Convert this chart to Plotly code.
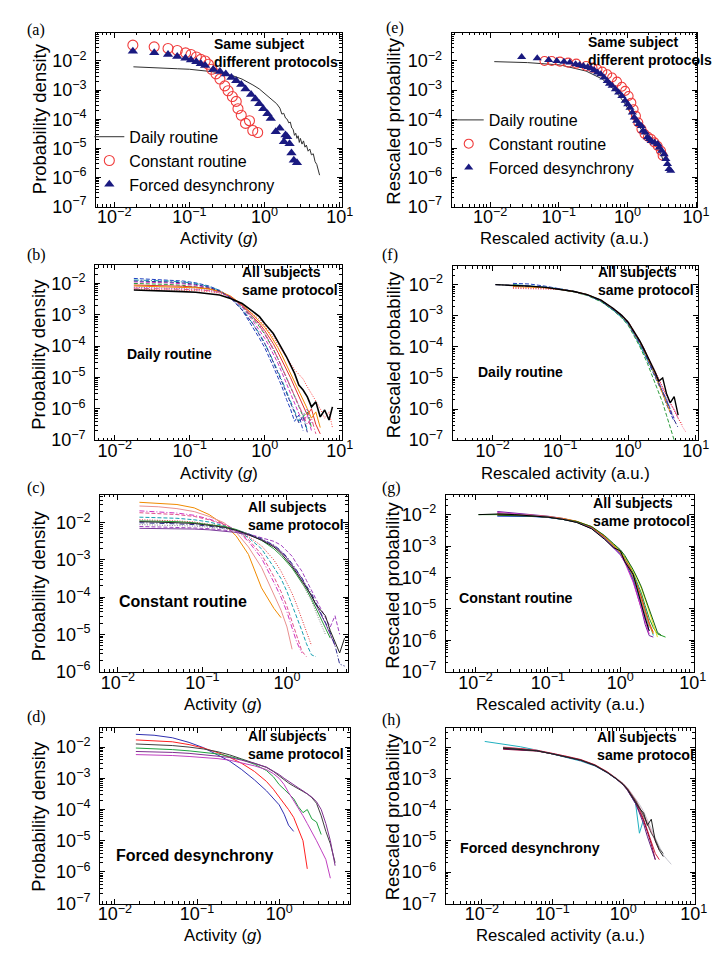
import plotly.graph_objects as go

W, H = 724, 954

# ---------------- data ----------------
# bin centres used by the histogram curves
ACT_BINS = [0.018, 0.03, 0.05, 0.08, 0.12, 0.18, 0.25, 0.35, 0.5, 0.7, 0.85, 1.0,
            1.15, 1.3, 1.5, 1.7, 1.95, 2.2, 2.5, 2.85, 3.25, 3.7, 4.2, 4.8, 5.5,
            6.3, 7.2, 8.0]
RES_BINS = [0.011, 0.02, 0.035, 0.06, 0.1, 0.16, 0.25, 0.4, 0.6, 0.8, 1.0, 1.15,
            1.3, 1.5, 1.7, 1.95, 2.2, 2.5, 2.85, 3.25, 3.7, 4.2, 4.8, 5.5, 6.3, 7.2]

# (a) same subject, different protocols
A_DAILY_X = [0.018, 0.025, 0.035, 0.05, 0.07, 0.1, 0.14, 0.2, 0.28, 0.38, 0.5, 0.6,
             0.7, 0.85, 1.0, 1.15, 1.3, 1.45, 1.6, 1.7, 1.8, 1.9, 2.0, 2.1, 2.2, 2.3,
             2.4, 2.5, 2.6, 2.7, 2.8, 2.9, 3.0, 3.15, 3.3, 3.45, 3.6, 3.8, 4.0, 4.2,
             4.45, 4.7, 4.95, 5.2, 5.4]
A_DAILY_Y = [0.0063, 0.006, 0.0057, 0.0055, 0.0054, 0.0052, 0.0048, 0.0043, 0.0037,
             0.0031, 0.0024, 0.0019, 0.0015, 0.0011, 0.00078, 0.00057, 0.00045,
             0.00034, 0.00024, 0.00015, 0.00016, 0.00011, 0.0001, 7.5e-5, 8e-5, 5e-5,
             4.5e-5, 2.8e-5, 3.3e-5, 2.2e-5, 2.7e-5, 1.6e-5, 2.2e-5, 1.4e-5, 1.8e-5,
             1.1e-5, 1.3e-5, 8e-6, 9.5e-6, 6e-6, 6.5e-6, 3.5e-6, 2.8e-6, 1.8e-6, 1.2e-6]
A_CONST_X = [0.0177, 0.034, 0.052, 0.069, 0.089, 0.105, 0.124, 0.142, 0.162, 0.179,
             0.198, 0.226, 0.255, 0.296, 0.327, 0.373, 0.42, 0.443, 0.49, 0.558,
             0.63, 0.697, 0.81]
A_CONST_Y = [0.035, 0.0306, 0.027, 0.023, 0.019, 0.0168, 0.0137, 0.0114, 0.01,
             0.0077, 0.0052, 0.0036, 0.0024, 0.0014, 0.00095, 0.0006, 0.00041,
             0.00023, 0.000137, 7.2e-5, 8.9e-5, 4.1e-5, 3.5e-5]
A_FORCED_X = [0.0177, 0.0341, 0.052, 0.0689, 0.0887, 0.105, 0.1236, 0.142, 0.162,
              0.208, 0.255, 0.305, 0.362, 0.42, 0.49, 0.558, 0.662, 0.755, 0.851,
              0.96, 1.094, 1.21, 1.41, 1.59, 1.81, 1.9, 2.0, 2.15, 2.28, 2.45, 2.7]
A_FORCED_Y = [0.0218, 0.0191, 0.0168, 0.0144, 0.0123, 0.0108, 0.0095, 0.0081, 0.007,
              0.0051, 0.00435, 0.00354, 0.00273, 0.0021, 0.00155, 0.0011, 0.0007,
              0.0005, 0.00034, 0.00023, 0.000154, 0.000105, 3.7e-5, 4.9e-5, 1.7e-5,
              2.9e-5, 2.5e-5, 1.44e-5, 6.9e-6, 3.9e-6, 3.2e-6]

# (e) rescaled, same subject
E_DAILY_X = [0.0115, 0.035, 0.105, 0.25, 0.43, 0.67, 0.93, 1.29, 1.78, 2.47, 3.1, 3.3]
E_DAILY_Y = [0.0095, 0.0088, 0.0073, 0.0045, 0.0024, 0.00094, 0.00033, 8.9e-5,
             3.1e-5, 1.4e-5, 6.3e-6, 3.8e-6]
E_CONST_X = [0.062, 0.079, 0.104, 0.137, 0.18, 0.25, 0.31, 0.366, 0.43, 0.508, 0.598,
             0.705, 0.83, 0.927, 1.04, 1.14, 1.23, 1.33, 1.44, 1.6, 1.78, 1.99, 2.22,
             2.47, 2.76, 3.08, 3.26]
E_CONST_Y = [0.01, 0.01, 0.0095, 0.0088, 0.0081, 0.0067, 0.0059, 0.0052, 0.0043,
             0.0035, 0.0027, 0.00196, 0.0013, 0.00094, 0.00063, 0.00037, 0.00022,
             0.00013, 7.7e-5, 4.6e-5, 3.1e-5, 2.5e-5, 2.1e-5, 1.6e-5, 1.2e-5, 8.3e-6,
             5.6e-6]
E_FORCED_X = [0.0288, 0.0486, 0.0713, 0.0937, 0.119, 0.145, 0.176, 0.201, 0.229,
              0.264, 0.294, 0.329, 0.366, 0.409, 0.456, 0.508, 0.548, 0.598, 0.668,
              0.745, 0.83, 0.927, 1.01, 1.09, 1.18, 1.26, 1.36, 1.47, 1.6, 1.69, 1.82,
              1.95, 2.1, 2.22, 2.47, 2.76, 2.91, 3.15, 3.43, 3.63, 3.83, 4.04, 4.27]
E_FORCED_Y = [0.0137, 0.0123, 0.0108, 0.01, 0.0095, 0.0088, 0.0077, 0.0073, 0.0067,
              0.0062, 0.0056, 0.0048, 0.004, 0.0035, 0.0027, 0.00207, 0.00167, 0.0014,
              0.00107, 0.00083, 0.00063, 0.00043, 0.00033, 0.00025, 0.00017,
              0.000114, 8.9e-5, 6.8e-5, 5.9e-5, 4e-5, 3.5e-5, 2.4e-5, 2.1e-5, 1.8e-5,
              1.6e-5, 1.4e-5, 1.07e-5, 8.3e-6, 6.3e-6, 4.3e-6, 2.9e-6, 1.95e-6, 1.7e-6]

# (b) daily routine, all subjects: log10 density on ACT_BINS
B_BLACK = [-2.21, -2.22, -2.23, -2.26, -2.28, -2.32, -2.37, -2.48, -2.64, -2.9, -3.06,
           -3.28, -3.44, -3.6, -3.86, -4.07, -4.34, -4.6, -4.87, -5.24, -5.4, -5.62,
           -5.94, -5.78, -6.26, -6.04, -6.36, -5.94]
B_OTHERS = [
    [-1.84, -1.86, -1.88, -1.92, -1.98, -2.08, -2.22, -2.45, -2.85, -3.4, -3.75, -4.05,
     -4.35, -4.65, -5.0, -5.3, -5.7, -6.0, -6.4, -6.2, -6.7],
    [-1.89, -1.9, -1.92, -1.95, -2.0, -2.1, -2.22, -2.44, -2.8, -3.3, -3.6, -3.9, -4.2,
     -4.45, -4.8, -5.1, -5.45, -5.75, -6.1, -6.4, -6.2, -6.7],
    [-1.95, -1.96, -1.98, -2.01, -2.06, -2.14, -2.25, -2.44, -2.75, -3.2, -3.48, -3.75,
     -4.0, -4.25, -4.55, -4.85, -5.2, -5.5, -5.8, -6.15, -6.4, -6.2, -6.7],
    [-2.0, -2.01, -2.03, -2.06, -2.1, -2.16, -2.26, -2.43, -2.72, -3.12, -3.38, -3.62,
     -3.86, -4.1, -4.4, -4.68, -5.0, -5.3, -5.6, -5.95, -6.25, -6.1, -6.6],
    [-2.05, -2.06, -2.07, -2.09, -2.12, -2.17, -2.25, -2.42, -2.7, -3.05, -3.28, -3.5,
     -3.72, -3.92, -4.2, -4.45, -4.75, -5.0, -5.3, -5.6, -5.9, -6.2, -6.0, -6.5, -6.8],
    [-2.08, -2.09, -2.1, -2.12, -2.14, -2.18, -2.25, -2.4, -2.68, -3.0, -3.2, -3.4,
     -3.6, -3.8, -4.05, -4.3, -4.6, -4.85, -5.1, -5.4, -5.7, -6.0, -6.3, -6.1, -6.6],
    [-2.12, -2.13, -2.14, -2.16, -2.18, -2.22, -2.28, -2.42, -2.7, -3.08, -3.32, -3.58,
     -3.82, -4.08, -4.38, -4.68, -5.0, -5.3, -5.6, -5.9, -6.2, -6.0, -6.5],
    [-2.18, -2.19, -2.2, -2.21, -2.23, -2.26, -2.31, -2.43, -2.7, -2.98, -3.15, -3.35,
     -3.55, -3.72, -3.95, -4.15, -4.35, -4.55, -4.75, -4.9, -5.05, -5.3, -5.5, -5.75,
     -6.0, -6.3, -6.1, -6.6],
    [-2.15, -2.16, -2.17, -2.18, -2.2, -2.23, -2.29, -2.43, -2.72, -3.1, -3.35, -3.6,
     -3.85, -4.1, -4.4, -4.7, -5.0, -5.3, -5.6, -5.9, -6.2, -6.5, -6.3, -6.8],
    [-1.92, -1.93, -1.95, -1.98, -2.03, -2.12, -2.24, -2.46, -2.85, -3.3, -3.62, -3.92,
     -4.22, -4.5, -4.85, -5.15, -5.5, -5.8, -6.15, -6.45, -6.25, -6.75],
]

# (c) constant routine, all subjects: log10 density on ACT_BINS
C_CURVES = [
    [-1.45, -1.47, -1.51, -1.6, -1.78, -2.05, -2.35, -2.85, -3.75, -4.3, -4.55],
    [-1.55, -1.57, -1.62, -1.7, -1.83, -2.0, -2.25, -2.65, -3.2, -3.9, -4.35, -4.8,
     -5.4],
    [-1.68, -1.7, -1.74, -1.8, -1.9, -2.03, -2.2, -2.5, -2.95, -3.6, -4.0, -4.4, -4.8,
     -5.2, -5.5],
    [-1.73, -1.75, -1.78, -1.83, -1.92, -2.05, -2.2, -2.45, -2.85, -3.45, -3.85, -4.25,
     -4.65, -5.05, -5.45, -5.6],
    [-1.85, -1.86, -1.88, -1.92, -1.98, -2.08, -2.2, -2.4, -2.7, -3.2, -3.5, -3.85,
     -4.2, -4.55, -4.9, -5.25, -5.55, -5.6],
    [-1.92, -1.93, -1.95, -1.98, -2.03, -2.1, -2.2, -2.37, -2.62, -3.0, -3.3, -3.6,
     -3.9, -4.2, -4.6, -4.95, -5.3],
    [-1.95, -1.96, -1.97, -2.0, -2.04, -2.1, -2.18, -2.3, -2.47, -2.7, -2.88, -3.05,
     -3.22, -3.4, -3.6, -3.8, -4.05, -4.3, -4.55, -4.85, -5.1],
    [-2.05, -2.06, -2.07, -2.09, -2.12, -2.16, -2.22, -2.31, -2.44, -2.62, -2.78,
     -2.95, -3.15, -3.35, -3.6, -3.85, -4.1, -4.4, -4.7, -5.0],
    [-2.1, -2.11, -2.12, -2.14, -2.16, -2.19, -2.23, -2.3, -2.4, -2.5, -2.6, -2.75,
     -2.9, -3.1, -3.3, -3.55, -3.8, -4.05, -4.3, -4.55, -4.8, -4.5, -5.0],
    [-2.15, -2.15, -2.16, -2.17, -2.19, -2.22, -2.26, -2.33, -2.45, -2.62, -2.78, -2.95,
     -3.12, -3.3, -3.5, -3.72, -3.95, -4.2, -4.45, -4.7, -5.0, -5.3],
    [-2.0, -2.01, -2.03, -2.05, -2.09, -2.14, -2.2, -2.3, -2.43, -2.6, -2.75, -2.92,
     -3.1, -3.28, -3.48, -3.7, -3.9, -4.15, -4.4, -4.65, -4.95, -5.3, -5.8, -5.85],
    [-1.97, -1.98, -2.0, -2.02, -2.06, -2.12, -2.2, -2.32, -2.47, -2.65, -2.82, -3.0,
     -3.18, -3.35, -3.55, -3.75, -3.95, -4.2, -4.35, -4.5, -4.9, -5.2, -5.5, -5.1],
]

# (d) forced desynchrony, all subjects: log10 density on ACT_BINS
D_CURVES = [
    [-1.59, -1.62, -1.7, -1.85, -2.02, -2.25, -2.45, -2.72, -3.05, -3.4, -3.65, -3.85,
     -4.15, -4.5, -4.7],
    [-1.77, -1.79, -1.83, -1.92, -2.03, -2.18, -2.33, -2.52, -2.78, -3.1, -3.35, -3.6,
     -3.8, -4.0, -4.25, -4.6, -5.0, -5.9],
    [-1.9, -1.92, -1.95, -2.0, -2.06, -2.15, -2.25, -2.38, -2.52, -2.65, -2.78, -2.93,
     -3.05, -3.15, -3.25, -3.32, -3.42, -3.5, -3.62, -3.8, -4.2, -4.7, -5.1, -5.7],
    [-2.03, -2.05, -2.08, -2.12, -2.17, -2.22, -2.3, -2.4, -2.55, -2.75, -2.95, -3.2,
     -3.35, -3.5, -3.65, -3.9, -4.1, -4.0, -4.3, -4.4, -4.8],
    [-2.14, -2.15, -2.17, -2.2, -2.24, -2.28, -2.33, -2.42, -2.52, -2.64, -2.76, -2.88,
     -3.0, -3.1, -3.2, -3.3, -3.4, -3.5, -3.6, -3.75, -4.0, -4.45, -5.0, -5.8],
    [-2.24, -2.25, -2.27, -2.3, -2.33, -2.37, -2.42, -2.5, -2.6, -2.72, -2.85, -3.0,
     -3.2, -3.45, -3.7, -3.95, -4.2, -4.45, -4.7, -5.0, -5.3, -5.6, -6.2],
]

# (f) daily routine rescaled: log10 density on RES_BINS
N = None
F_BLACK = [-2.0, -2.02, -2.05, -2.09, -2.15, -2.22, -2.32, -2.5, -2.76, -2.98, -3.2,
           -3.4, -3.6, -3.82, -4.05, -4.3, -4.55, -4.8, -5.1, -5.0, -5.5, -5.8, -5.6,
           -6.2]
F_OTHERS = [
    [N, -1.96, -1.98, -2.05, -2.13, -2.22, -2.33, -2.53, -2.8, -3.03, -3.26, -3.47,
     -3.68, -3.92, -4.15, -4.45, -4.7, -4.95, -5.25, -5.5, -5.85, -6.1, -6.4],
    [N, -2.12, -2.13, -2.13, -2.16, -2.22, -2.33, -2.5, -2.75, -2.97, -3.18, -3.38,
     -3.57, -3.8, -4.02, -4.3, -4.52, -4.78, -5.02, -5.3, -5.55, -5.8, -6.05, -6.3,
     -6.55, -6.75],
    [N, -2.0, -2.04, -2.08, -2.14, -2.22, -2.34, -2.54, -2.82, -3.05, -3.28, -3.48,
     -3.7, -3.95, -4.18, -4.4, -4.65, -4.9, -5.2, -5.45, -5.7, -6.0],
    [N, -2.01, -2.05, -2.1, -2.16, -2.24, -2.35, -2.55, -2.82, -3.06, -3.3, -3.52,
     -3.75, -4.0, -4.25, -4.55, -4.85, -5.15, -5.5, -5.8, -6.2, -6.6, -7.0],
    [N, N, -2.05, -2.09, -2.15, -2.23, -2.33, -2.51, -2.77, -2.99, -3.21, -3.42, -3.6,
     -3.82, -4.05, -4.32, -4.55, -4.82, -5.05, -5.3, -5.55, -5.85, -6.0, -6.3],
    [N, -2.1, -2.11, -2.12, -2.16, -2.23, -2.33, -2.51, -2.77, -2.98, -3.2, -3.4, -3.6,
     -3.82, -4.05, -4.3, -4.55, -4.8, -5.05, -5.3, -5.55, -5.8, -6.05, -6.3, -6.5],
    [N, -2.03, -2.05, -2.09, -2.15, -2.22, -2.32, -2.51, -2.79, -3.02, -3.25, -3.46,
     -3.66, -3.9, -4.12, -4.38, -4.62, -4.9, -5.15, -5.45, -5.7, -6.0, -6.3],
    [N, -2.06, -2.08, -2.1, -2.15, -2.22, -2.32, -2.5, -2.77, -3.0, -3.22, -3.43,
     -3.63, -3.86, -4.1, -4.36, -4.62, -4.9, -5.2, -5.5, -5.8, -6.1],
    [-2.0, -2.02, -2.04, -2.08, -2.14, -2.22, -2.33, -2.53, -2.79, -3.01, -3.23, -3.44,
     -3.64, -3.88, -4.11, -4.38, -4.64, -4.9, -5.18, -5.45, -5.75, -6.05, -6.35, -6.6],
]

# (g) constant routine rescaled: log10 density on RES_BINS
G_CURVES = [
    [-2.0, -1.99, -2.0, -2.03, -2.07, -2.13, -2.22, -2.4, -2.7, -2.95, -3.15, -3.35,
     -3.55, -3.85, -4.15, -4.5, -4.9, -5.3, -5.6, -5.8, -5.85, -5.9],
    [N, N, -2.02, -2.05, -2.08, -2.14, -2.22, -2.4, -2.7, -2.96, -3.18, -3.36, -3.55,
     -3.8, -4.05, -4.35, -4.7, -5.1, -5.5, -5.9],
    [N, -2.0, -2.02, -2.05, -2.09, -2.15, -2.24, -2.43, -2.73, -3.0, -3.22, -3.4,
     -3.62, -3.9, -4.2, -4.6, -5.0, -5.45, -5.85],
    [N, -1.9, -1.95, -2.0, -2.05, -2.12, -2.22, -2.42, -2.74, -3.02, -3.26, -3.5,
     -3.75, -4.1, -4.5, -5.0, -5.5, -5.85, -5.9],
    [N, -2.05, -2.05, -2.06, -2.09, -2.15, -2.24, -2.44, -2.75, -3.03, -3.28, -3.5,
     -3.75, -4.05, -4.4, -4.85, -5.3, -5.7],
    [N, -2.0, -2.01, -2.04, -2.08, -2.14, -2.23, -2.41, -2.71, -2.98, -3.2, -3.42,
     -3.62, -3.92, -4.25, -4.62, -5.05, -5.45, -5.75],
    [N, -1.97, -1.99, -2.02, -2.06, -2.12, -2.21, -2.38, -2.68, -2.97, -3.2, -3.42,
     -3.66, -3.98, -4.3, -4.7, -5.1, -5.5, -5.8],
    [N, -1.93, -1.97, -2.02, -2.07, -2.14, -2.24, -2.44, -2.76, -3.04, -3.28, -3.52,
     -3.8, -4.15, -4.55, -5.0, -5.45, -5.8],
    [N, -2.02, -2.03, -2.05, -2.08, -2.14, -2.22, -2.38, -2.66, -2.92, -3.12, -3.3,
     -3.5, -3.75, -4.0, -4.3, -4.65, -5.0, -5.4, -5.75, -5.85],
    [N, -1.96, -1.99, -2.03, -2.08, -2.15, -2.25, -2.44, -2.74, -3.0, -3.24, -3.45,
     -3.7, -4.0, -4.35, -4.8, -5.2, -5.6],
    [-2.0, -1.98, -2.0, -2.03, -2.08, -2.15, -2.25, -2.45, -2.78, -3.05, -3.15, -3.5,
     -3.7, -3.9, -4.35, -4.9, -5.3, -5.7],
]

# (h) forced desynchrony rescaled: log10 density on RES_BINS
H_CURVES = [
    [-1.8, -1.88, -1.97, -2.08, -2.2, -2.32, -2.43, -2.59, -2.81, -3.01, -3.17, -3.35,
     -3.55, -3.8, -4.75, -4.3],
    [N, -1.99, -2.03, -2.09, -2.19, -2.29, -2.39, -2.56, -2.78, -2.97, -3.14, -3.28,
     -3.44, -3.62, -3.82, -4.05, -4.3, -4.6, -4.9, -5.2, -5.45, -5.6, -5.75],
    [N, -1.98, -2.02, -2.08, -2.18, -2.28, -2.39, -2.56, -2.79, -2.99, -3.17, -3.31,
     -3.48, -3.68, -3.9, -4.15, -4.4, -4.7, -5.0, -5.3],
    [N, -2.0, -2.03, -2.09, -2.18, -2.28, -2.38, -2.55, -2.78, -2.98, -3.16, -3.32,
     -3.5, -3.72, -3.98, -4.3, -4.65, -5.0, -5.4, -5.6],
    [N, -2.05, -2.07, -2.11, -2.2, -2.3, -2.4, -2.57, -2.8, -3.0, -3.19, -3.36, -3.55,
     -3.78, -4.05, -4.35, -4.7, -5.1, -5.6],
    [N, -2.03, -2.06, -2.1, -2.2, -2.31, -2.41, -2.58, -2.81, -3.01, -3.2, -3.37, -3.56,
     -3.8, -4.1, -4.45, -4.85, -5.25, -5.6],
    [N, -2.0, -2.04, -2.1, -2.2, -2.3, -2.4, -2.57, -2.8, -3.0, -3.18, -3.33, -3.5,
     -3.7, -3.92, -4.18, -4.45, -4.75, -4.95, -5.25, -5.4],
    [N, -2.02, -2.05, -2.1, -2.2, -2.3, -2.4, -2.57, -2.8, -3.0, -3.18, -3.34, -3.52,
     -3.75, -3.95, -4.1, -4.5, -4.3, -5.0, -5.3, -5.5],
]

# ---------------- styles ----------------
DASH = "4px,2px"
DOT = "1px,1.5px"
DASHDOT = "5px,2px,1px,2px"
B_STYLES = [("#1f3fbf", DASH), ("#16a0b0", DASHDOT), ("#d030c0", DASH),
            ("#2a9a3a", DASH), ("#e03030", "solid"), ("#f08a00", "solid"),
            ("#8040c0", DOT), ("#ff4040", DOT), ("#e0508a", DASHDOT), ("#303090", DASH)]
C_STYLES = [("#f08a00", "solid"), ("#e89090", "solid"), ("#d030c0", DASHDOT),
            ("#e0508a", DASH), ("#16a0b0", DASH), ("#e03030", DOT), ("#2a9a3a", "solid"),
            ("#8a8a8a", DOT), ("#a040c0", DASH), ("#7a3a9a", "solid"),
            ("#303090", DASHDOT), ("#202020", "solid")]
D_STYLES = [("#3030b0", "solid"), ("#ff2020", "solid"), ("#404040", "solid"),
            ("#20a040", "solid"), ("#803090", "solid"), ("#c040c0", "solid")]
F_STYLES = [("#1f3fbf", DASH), ("#ff6080", DOT), ("#16a0b0", "solid"),
            ("#2a9a3a", DASH), ("#d030c0", DOT), ("#e03030", DOT), ("#8040c0", DASH),
            ("#f08a00", "solid"), ("#303090", DASHDOT)]
G_STYLES = [("#20a020", "solid"), ("#e8e020", "solid"), ("#20b0c0", "solid"),
            ("#7020a0", "solid"), ("#2040d0", "solid"), ("#e02020", "solid"),
            ("#f08a00", "solid"), ("#d030c0", "solid"), ("#106010", "solid"),
            ("#808080", "solid"), ("#000000", "solid")]
H_STYLES = [("#20b0c0", "solid"), ("#c8c8d0", "solid"), ("#e07090", "solid"),
            ("#d02040", "solid"), ("#900030", "solid"), ("#602080", "solid"),
            ("#505050", "solid"), ("#202020", "solid")]

SANS = "Liberation Sans, Arial, sans-serif"
SERIF = "Liberation Serif, Times New Roman, serif"

# panel boxes in pixels (left, right, top, bottom) and log ranges
PANELS = {
    "a": dict(n=1, box=(88, 339, 25, 201), xr=(-2.24, 1.03), yr=(-7.01, -1.03), xp=[-2, -1, 0, 1], yp=range(-7, -1)),
    "e": dict(n=2, box=(451, 702, 25, 201), xr=(-2.56, 1.02), yr=(-7.01, -1.03), xp=[-2, -1, 0, 1], yp=range(-7, -1)),
    "b": dict(n=3, box=(87, 339, 260, 437), xr=(-2.26, 1.03), yr=(-7.01, -1.42), xp=[-2, -1, 0, 1], yp=range(-7, -1)),
    "f": dict(n=4, box=(452, 703, 261, 437), xr=(-2.59, 1.04), yr=(-7.01, -1.41), xp=[-2, -1, 0, 1], yp=range(-7, -1)),
    "c": dict(n=5, box=(92, 345, 492, 671), xr=(-2.21, 0.72), yr=(-6.01, -1.25), xp=[-2, -1, 0], yp=range(-6, -1)),
    "g": dict(n=6, box=(445, 698, 492, 671), xr=(-2.41, 1.01), yr=(-7.01, -1.37), xp=[-2, -1, 0, 1], yp=range(-7, -1)),
    "d": dict(n=7, box=(92, 347, 728, 905), xr=(-2.18, 0.86), yr=(-7.01, -1.4), xp=[-2, -1, 0], yp=range(-7, -1)),
    "h": dict(n=8, box=(445, 699, 728, 905), xr=(-2.51, 1.01), yr=(-7.01, -1.38), xp=[-2, -1, 0, 1], yp=range(-7, -1)),
}


def pow_label(p):
    return "10<sup>" + ("−" if p < 0 else "") + str(abs(p)) + "</sup>"


fig = go.Figure()


def axref(key):
    n = PANELS[key]["n"]
    return ("x" if n == 1 else f"x{n}"), ("y" if n == 1 else f"y{n}")


def add_hist(key, bins, curves, styles, width=1.0):
    xa, ya = axref(key)
    for vals, (color, dash) in zip(curves, styles):
        xs = [b for b, v in zip(bins, vals) if v is not None]
        ys = [10 ** v for v in vals if v is not None]
        fig.add_trace(go.Scatter(x=xs, y=ys, mode="lines", xaxis=xa, yaxis=ya,
                                 line=dict(color=color, dash=dash, width=width),
                                 showlegend=False, hoverinfo="skip"))


# (a) and (e): markers with legends
for key, leg, dx, dy, cx, cy, fx, fy, csz, tsz in [
        ("a", "legend", A_DAILY_X, A_DAILY_Y, A_CONST_X, A_CONST_Y, A_FORCED_X, A_FORCED_Y, 10, 9),
        ("e", "legend2", E_DAILY_X, E_DAILY_Y, E_CONST_X, E_CONST_Y, E_FORCED_X, E_FORCED_Y, 9, 8)]:
    xa, ya = axref(key)
    fig.add_trace(go.Scatter(x=dx, y=dy, mode="lines", name="Daily routine", legend=leg,
                             line=dict(color="#303030", width=1), xaxis=xa, yaxis=ya))
    fig.add_trace(go.Scatter(x=cx, y=cy, mode="markers", name="Constant routine", legend=leg,
                             marker=dict(symbol="circle-open", size=csz, color="#f03c3c",
                                         line=dict(width=1.1)), xaxis=xa, yaxis=ya))
    fig.add_trace(go.Scatter(x=fx, y=fy, mode="markers", name="Forced desynchrony", legend=leg,
                             marker=dict(symbol="triangle-up", size=tsz, color="#1a1a80"),
                             xaxis=xa, yaxis=ya))

add_hist("b", ACT_BINS, B_OTHERS, B_STYLES)
add_hist("b", ACT_BINS, [B_BLACK], [("#000000", "solid")], width=1.6)
add_hist("c", ACT_BINS, C_CURVES, C_STYLES)
add_hist("d", ACT_BINS, D_CURVES, D_STYLES)
add_hist("f", RES_BINS, F_OTHERS, F_STYLES)
add_hist("f", RES_BINS, [F_BLACK], [("#000000", "solid")], width=1.4)
add_hist("g", RES_BINS, G_CURVES, G_STYLES)
add_hist("h", RES_BINS, H_CURVES, H_STYLES)

layout = dict(width=W, height=H, margin=dict(l=0, r=0, t=0, b=0),
              paper_bgcolor="white", plot_bgcolor="white",
              font=dict(family=SANS, color="black"))

for key, p in PANELS.items():
    n = p["n"]
    x0, x1, y0, y1 = p["box"]
    sfx = "" if n == 1 else str(n)
    common = dict(type="log", showline=True, linecolor="black", linewidth=1,
                  mirror="ticks", ticks="inside", ticklen=5, tickcolor="black",
                  showgrid=False, zeroline=False, tickmode="array",
                  tickfont=dict(family=SANS, size=18, color="black"),
                  minor=dict(ticks="inside", ticklen=2.5, dtick="D1", tickcolor="black",
                             showgrid=False))
    layout["xaxis" + sfx] = dict(common, range=list(p["xr"]), domain=[x0 / W, x1 / W],
                                 anchor="y" + sfx, tickvals=[10 ** e for e in p["xp"]],
                                 ticktext=[pow_label(e) for e in p["xp"]],
                                 ticklabelstandoff=-6)
    layout["yaxis" + sfx] = dict(common, range=list(p["yr"]),
                                 domain=[1 - y1 / H, 1 - y0 / H], anchor="x" + sfx,
                                 tickvals=[10 ** e for e in p["yp"]],
                                 ticktext=[pow_label(e) for e in p["yp"]],
                                 ticklabelstandoff=5)

leg_common = dict(xanchor="left", yanchor="top", bgcolor="rgba(0,0,0,0)",
                  font=dict(family=SANS, size=16, color="black"), tracegroupgap=0,
                  itemwidth=30)
layout["legend"] = dict(leg_common, x=81 / W, y=1 - 113 / H)
layout["legend2"] = dict(leg_common, x=448 / W, y=1 - 96 / H)
fig.update_layout(**layout)

# ---------------- text ----------------
def note(x, y, text, size, family=SANS, angle=0, xanchor="left"):
    fig.add_annotation(x=x / W, y=1 - y / H, xref="paper", yref="paper", text=text,
                       showarrow=False, xanchor=xanchor, yanchor="middle", align="left",
                       textangle=angle, borderpad=0,
                       font=dict(family=family, size=size, color="black"))


for lbl, x, y in [("(a)", 27, 22), ("(e)", 393, 20), ("(b)", 27, 250), ("(f)", 388, 250),
                  ("(c)", 27, 485), ("(g)", 390, 485), ("(d)", 27, 717), ("(h)", 390, 720)]:
    note(x, y, lbl, 16, family=SERIF, xanchor="center")

# two-line panel notes (left x, centre y) and one-line protocol names
SAME_SUBJ = "<b>Same subject<br>different protocols</b>"
ALL_SUBJ = "<b>All subjects<br>same protocol</b>"
for x, y, t, size in [(207, 45, SAME_SUBJ, 14), (589, 43, SAME_SUBJ, 14),
                      (236, 276, ALL_SUBJ, 14), (599, 276, ALL_SUBJ, 14),
                      (242, 513, ALL_SUBJ, 14), (594, 509, ALL_SUBJ, 14.2),
                      (242, 745, ALL_SUBJ, 14), (598, 746, ALL_SUBJ, 14.2),
                      (118, 350, "<b>Daily routine</b>", 14),
                      (477, 368, "<b>Daily routine</b>", 14),
                      (110, 600, "<b>Constant routine</b>", 16),
                      (457, 596, "<b>Constant routine</b>", 14.2),
                      (107, 856, "<b>Forced desynchrony</b>", 16),
                      (459, 849, "<b>Forced desynchrony</b>", 14.2)]:
    note(x, y, t, size)

ACT_TITLE = "Activity (<i>g</i>)"
RES_TITLE = "Rescaled activity (a.u.)"
for x, y, t in [(213, 233, ACT_TITLE), (566, 233, RES_TITLE), (213, 470, ACT_TITLE),
                (567, 470, RES_TITLE), (218, 704, ACT_TITLE), (562, 704, RES_TITLE),
                (218, 937, ACT_TITLE), (562, 937, RES_TITLE)]:
    note(x, y, t, 16.7, xanchor="center")

for x, y, t in [(30, 112, "Probability density"), (392, 114, "Rescaled probability"),
                (29, 350, "Probability density"), (391, 350, "Rescaled probability"),
                (29, 584, "Probability density"), (391, 583, "Rescaled probability"),
                (29, 817, "Probability density"), (391, 817, "Rescaled probability")]:
    note(x, y, t, 18.5, angle=-90, xanchor="center")

fig.write_html("out.html")
